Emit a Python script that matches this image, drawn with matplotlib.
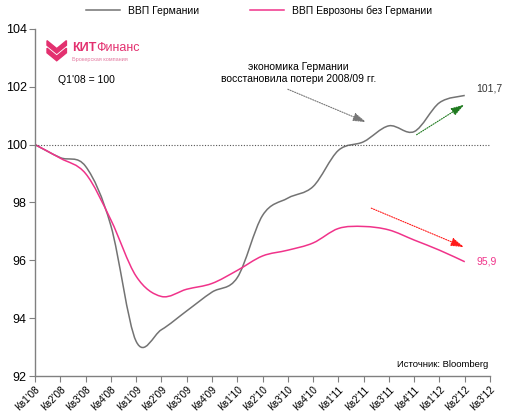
import numpy as np
import matplotlib.pyplot as plt
from matplotlib.path import Path
from matplotlib.patches import PathPatch, Polygon

plt.rcParams['font.family'] = ['Liberation Sans', 'DejaVu Sans']

quarters = ["Кв1'08", "Кв2'08", "Кв3'08", "Кв4'08", "Кв1'09", "Кв2'09", "Кв3'09",
            "Кв4'09", "Кв1'10", "Кв2'10", "Кв3'10", "Кв4'10", "Кв1'11", "Кв2'11",
            "Кв3'11", "Кв4'11", "Кв1'12", "Кв2'12", "Кв3'12"]
germany = [100.0, 99.55, 99.25, 97.2, 93.2, 93.6, 94.25, 94.9, 95.4, 97.55,
           98.15, 98.55, 99.8, 100.1, 100.65, 100.45, 101.45, 101.7]
eurozone = [100.0, 99.53, 99.0, 97.4, 95.45, 94.75, 95.0, 95.2, 95.65, 96.15,
            96.35, 96.6, 97.1, 97.17, 97.05, 96.7, 96.35, 95.95]
yticks = [92, 94, 96, 98, 100, 102, 104]

GRAY = '#737373'
PINK = '#f0338a'


def smooth_path(ys):
    # Excel-like smoothed line: cubic bezier through the data points
    xs = np.arange(len(ys), dtype=float)
    ys = np.asarray(ys, dtype=float)
    verts = [(xs[0], ys[0])]
    codes = [Path.MOVETO]
    n = len(xs)
    for i in range(n - 1):
        p0 = i - 1 if i > 0 else i
        p3 = i + 2 if i + 2 < n else i + 1
        c1 = (xs[i] + (xs[i + 1] - xs[p0]) / 6, ys[i] + (ys[i + 1] - ys[p0]) / 6)
        c2 = (xs[i + 1] - (xs[p3] - xs[i]) / 6, ys[i + 1] - (ys[p3] - ys[i]) / 6)
        verts += [c1, c2, (xs[i + 1], ys[i + 1])]
        codes += [Path.CURVE4] * 3
    return Path(verts, codes)


fig = plt.figure(figsize=(5.11, 4.19), dpi=100)
ax = fig.add_axes([0.0685, 0.1026, 0.8905, 0.8284])

ax.set_xlim(0, len(quarters) - 1)
ax.set_ylim(92, 104)

ax.axhline(100, color='#555555', lw=0.8, ls=(0, (1, 1.5)))

for data, col, lab in [(germany, GRAY, 'ВВП Германии'),
                       (eurozone, PINK, 'ВВП Еврозоны без Германии')]:
    ax.add_patch(PathPatch(smooth_path(data), fill=False, edgecolor=col, lw=1.1))
    ax.plot([], [], color=col, lw=1.1, label=lab)

ax.set_xticks(range(len(quarters)))
ax.set_xticklabels(quarters, rotation=45, ha='right', rotation_mode='anchor', fontsize=7.2)
ax.set_yticks(yticks)
ax.set_yticklabels([str(v) for v in yticks], fontsize=9)
ax.tick_params(axis='both', direction='out', length=4, color='#808080', width=0.8, pad=2)
for s in ['top', 'right']:
    ax.spines[s].set_visible(False)
for s in ['left', 'bottom']:
    ax.spines[s].set_color('#808080')
    ax.spines[s].set_linewidth(1.0)

# end labels
ax.text(len(germany) - 1 + 0.45, germany[-1] + 0.25, '101,7', fontsize=7.5, color='#333333',
        va='center')
ax.text(len(eurozone) - 1 + 0.45, eurozone[-1], '95,9', fontsize=7.5, color=PINK, va='center')

# arrows
arrow = '-|>,head_length=0.8,head_width=0.25'
ax.annotate('', xy=(13.2, 100.74), xytext=(9.9, 101.95),
            arrowprops=dict(arrowstyle=arrow, color='#777777', lw=0.8, ls=(0, (1, 1.2))))
ax.annotate('', xy=(17.07, 101.43), xytext=(15.0, 100.29),
            arrowprops=dict(arrowstyle=arrow, color='#1f7a1f', lw=0.8, ls=(0, (1, 1.2))))
ax.annotate('', xy=(17.07, 96.42), xytext=(13.2, 97.84),
            arrowprops=dict(arrowstyle=arrow, color='#ff1a1a', lw=0.8, ls=(0, (1, 1.2))))

fig.text(0.584, 0.826, 'экономика Германии\nвосстановила потери 2008/09 гг.',
         ha='center', va='center', fontsize=7.5, linespacing=1.35)
fig.text(0.113, 0.808, "Q1'08 = 100", fontsize=7.5, va='center')
fig.text(0.955, 0.131, 'Источник: Bloomberg', fontsize=6.8, ha='right', va='center')

# logo
LOGO = '#e3306f'
for dy in [0.0, 0.018]:
    fig.patches.append(Polygon([(0.092, 0.903 - dy), (0.111, 0.884 - dy), (0.130, 0.903 - dy),
                                (0.130, 0.892 - dy), (0.111, 0.873 - dy), (0.092, 0.892 - dy)],
                               closed=True, transform=fig.transFigure, color=LOGO))
kit = fig.text(0.141, 0.885, 'КИТ', fontsize=9, fontweight='bold', color=LOGO, va='center')
ax.annotate('Финанс', xy=(1.0, 0.0), xycoords=kit, fontsize=9, color=LOGO, va='bottom',
            annotation_clip=False)
fig.text(0.141, 0.857, 'Брокерская компания', fontsize=4, color='#e37aa0', va='center')

fig.legend(loc='upper center', bbox_to_anchor=(0.507, 1.0), ncol=2, frameon=False,
           fontsize=7.5, handlelength=3.3, columnspacing=4.8, borderaxespad=0.1)

fig.savefig('out.png', dpi=100)
